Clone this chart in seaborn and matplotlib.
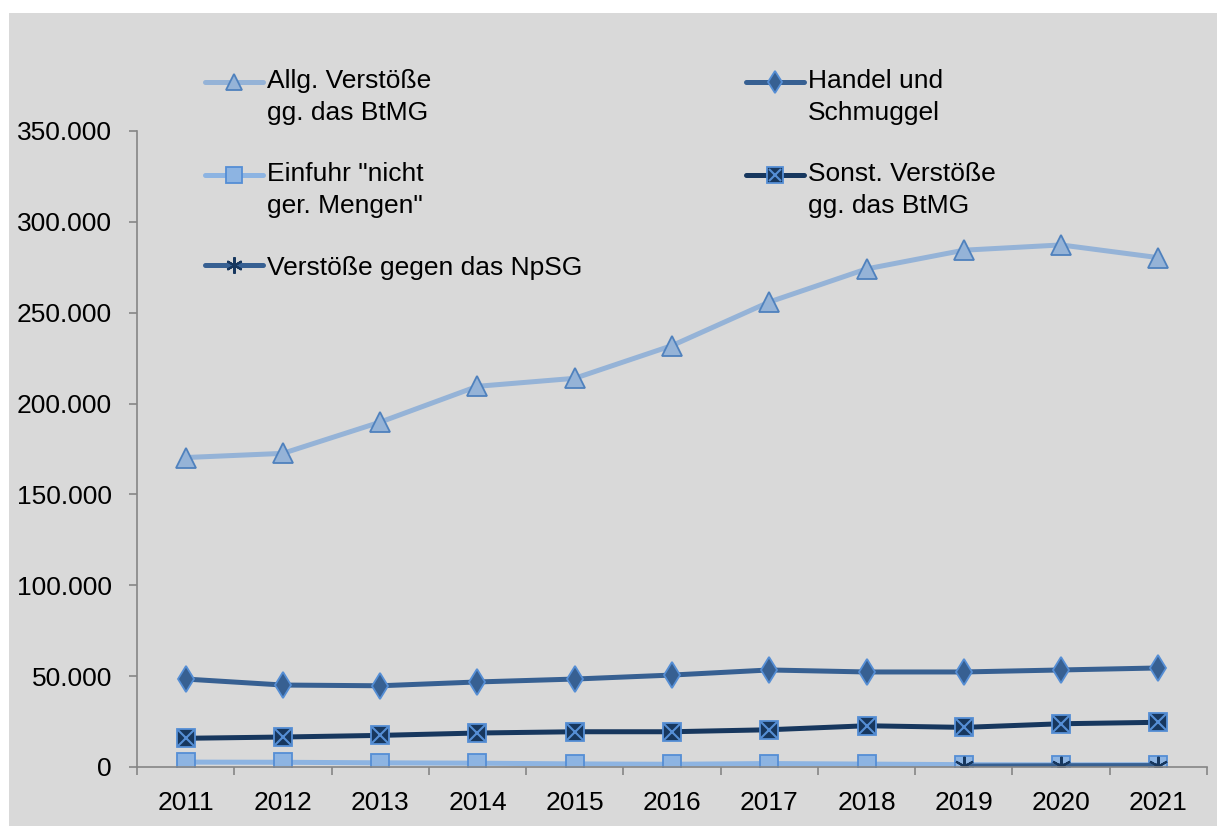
import matplotlib
matplotlib.use("Agg")
import matplotlib.pyplot as plt
import matplotlib.ticker as mticker
from matplotlib.patches import Rectangle
from matplotlib.legend_handler import HandlerLine2D, HandlerTuple
import seaborn as sns
import numpy as np

years = [2011, 2012, 2013, 2014, 2015, 2016, 2017, 2018, 2019, 2020, 2021]
allg = [170300, 172600, 189800, 209500, 213900, 231900, 255900, 274100, 284400, 287300, 280300]
handel = [48400, 45100, 44700, 46800, 48400, 50600, 53400, 52300, 52300, 53400, 54500]
einfuhr = [2700, 2600, 2300, 2100, 1700, 1500, 1900, 1600, 1300, 1200, 1300]
sonst = [15800, 16500, 17400, 18700, 19400, 19400, 20500, 22700, 21800, 23800, 24600]
npsg_years = [2019, 2020, 2021]
npsg = [500, 700, 800]

labels = {
    "allg": "Allg. Verstöße\ngg. das BtMG",
    "handel": "Handel und\nSchmuggel",
    "einfuhr": "Einfuhr \"nicht\nger. Mengen\"",
    "sonst": "Sonst. Verstöße\ngg. das BtMG",
    "npsg": "Verstöße gegen das NpSG",
}

sns.set_theme(style="white")
plt.rcParams["font.family"] = ["Liberation Sans", "DejaVu Sans"]
plt.rcParams["text.color"] = "black"

BG = "#d9d9d9"
W, H = 1217, 826
fig = plt.figure(figsize=(W / 100, H / 100), dpi=100, facecolor="white")
fig.patches.append(Rectangle((9 / W, 0), 1 - 9 / W, (H - 13) / H,
                             transform=fig.transFigure, facecolor=BG,
                             edgecolor="none", zorder=-10))
ax = fig.add_axes([137 / W, 1 - 767 / H, (1207 - 137) / W, (767 - 131) / H])
ax.set_facecolor(BG)

lw = 3.6
l_allg = sns.lineplot(x=years, y=allg, ax=ax, color="#95b3d7", linewidth=lw,
                      marker="^", markersize=14, markerfacecolor="#95b3d7",
                      markeredgecolor="#4f81bd", markeredgewidth=1.3).lines[-1]
l_handel = sns.lineplot(x=years, y=handel, ax=ax, color="#376092", linewidth=lw,
                        marker="d", markersize=13, markerfacecolor="#376092",
                        markeredgecolor="#558ed5", markeredgewidth=1.3).lines[-1]
l_einf = sns.lineplot(x=years, y=einfuhr, ax=ax, color="#8db4e2", linewidth=lw,
                      marker="s", markersize=13, markerfacecolor="#8db4e2",
                      markeredgecolor="#558ed5", markeredgewidth=1.3).lines[-1]
l_sonst = sns.lineplot(x=years, y=sonst, ax=ax, color="#17375e", linewidth=lw,
                       marker="s", markersize=13, markerfacecolor="#17375e",
                       markeredgecolor="#558ed5", markeredgewidth=1.3).lines[-1]
l_sonst_x, = ax.plot(years, sonst, linestyle="none", marker="x", markersize=11,
                     markeredgecolor="#558ed5", markeredgewidth=1.5)
l_npsg = sns.lineplot(x=npsg_years, y=npsg, ax=ax, color="#376092", linewidth=lw,
                      marker=(6, 2, 0), markersize=14,
                      markeredgecolor="#17375e", markeredgewidth=1.5).lines[-1]

ax.set_xlim(2010.5, 2021.5)
ax.set_ylim(0, 350000)
ax.set_xticks(years)
ax.set_xticklabels([str(y) for y in years])
ax.set_xticks(np.arange(2010.5, 2022, 1), minor=True)
ax.set_yticks(np.arange(0, 350001, 50000))
ax.yaxis.set_major_formatter(mticker.FuncFormatter(lambda v, p: f"{int(v):,}".replace(",", ".")))
ax.tick_params(axis="x", which="major", bottom=True, length=0, pad=17, labelsize=19,
               labelcolor="black")
ax.tick_params(axis="x", which="minor", bottom=True, length=6, width=1.2,
               color="#868686", direction="out")
ax.tick_params(axis="y", which="major", left=True, length=6, width=1.2, color="#868686",
               direction="out", pad=12, labelsize=19, labelcolor="black")
for s in ["top", "right"]:
    ax.spines[s].set_visible(False)
for s in ["left", "bottom"]:
    ax.spines[s].set_color("#868686")
    ax.spines[s].set_linewidth(1.2)
ax.set_xlabel("")
ax.set_ylabel("")


class ShiftedLine(HandlerLine2D):
    """Line handler that sits on the first text line of a two-line label."""
    def __init__(self, shift, **kw):
        super().__init__(**kw)
        self.shift = shift

    def create_artists(self, legend, orig_handle, xdescent, ydescent, width, height,
                       fontsize, trans):
        return super().create_artists(legend, orig_handle, xdescent,
                                      ydescent - self.shift, width, height,
                                      fontsize, trans)


shift = 22
hmap = {l_allg: ShiftedLine(shift), l_einf: ShiftedLine(shift),
        l_handel: ShiftedLine(shift), l_sonst: ShiftedLine(shift),
        l_sonst_x: ShiftedLine(shift)}
handles = [l_allg, l_einf, l_npsg, l_handel, (l_sonst, l_sonst_x)]
labs = [labels["allg"], labels["einfuhr"], labels["npsg"], labels["handel"], labels["sonst"]]
leg = fig.legend(handles, labs, loc="upper left", bbox_to_anchor=(205 / W, 1 - 69 / H),
                 bbox_transform=fig.transFigure, ncol=2, frameon=False,
                 fontsize=19, handlelength=2.2, handletextpad=0.15, markerscale=0.85,
                 columnspacing=6.2, labelspacing=1.43, borderpad=0, borderaxespad=0,
                 handler_map=hmap)
for t in leg.get_texts():
    t.set_linespacing(1.4)
    t.set_color("black")

fig.savefig("out.png", dpi=100, facecolor="white")
